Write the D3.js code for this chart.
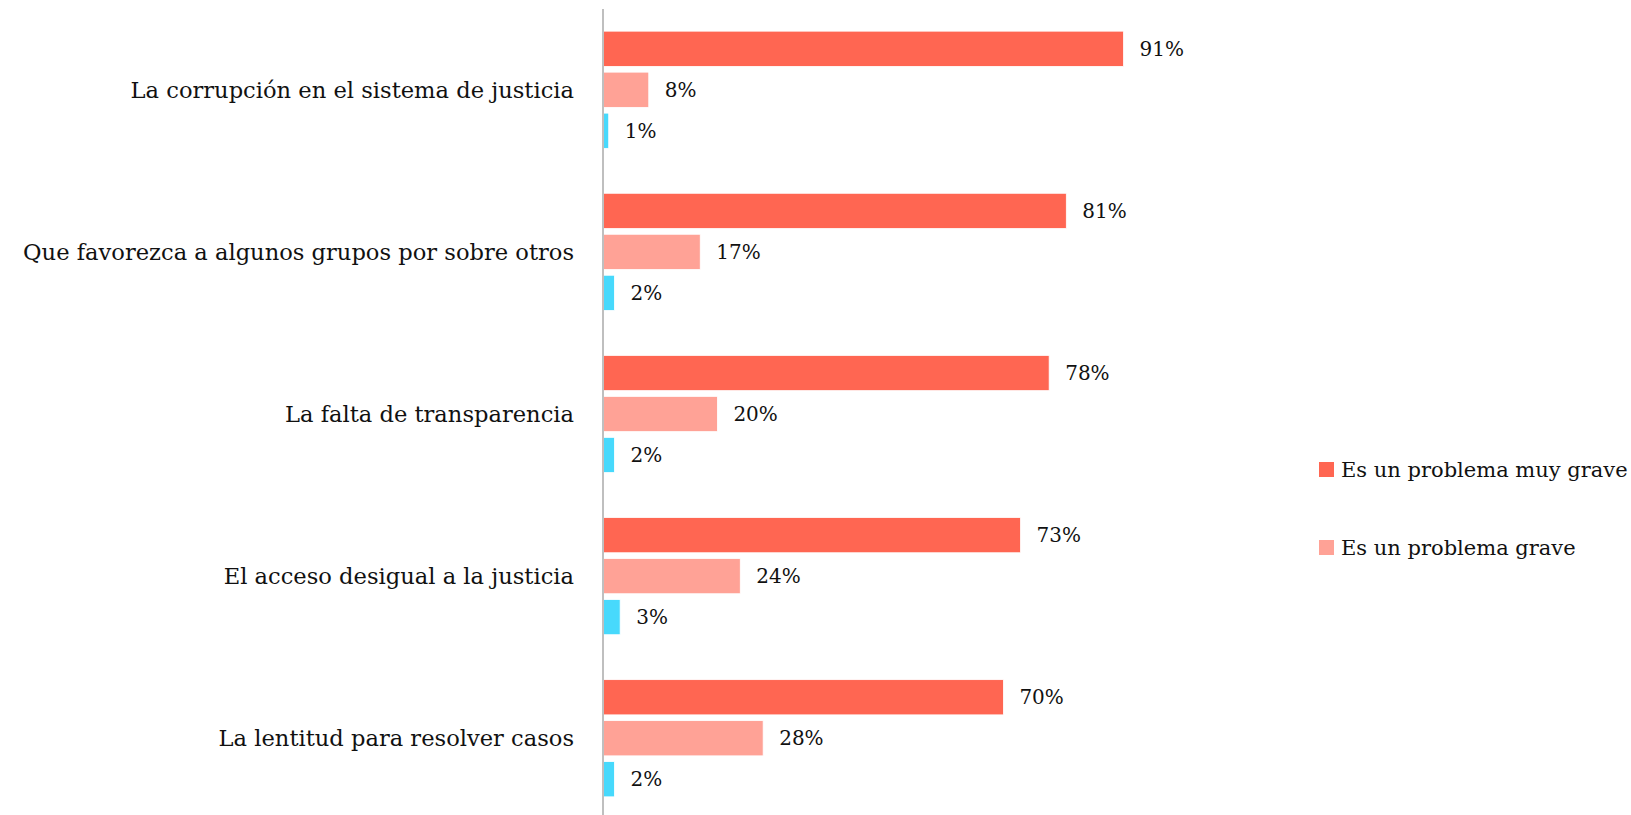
<!DOCTYPE html>
<html>
<head>
<meta charset="utf-8">
<script src="https://cdn.jsdelivr.net/npm/d3@7"></script>
<style>
  body { margin: 0; background: #fff; }
  text { font-family: "DejaVu Serif", serif; fill: #111; }
</style>
</head>
<body>
<div id="chart"></div>
<script>
// Datos del gráfico
var categories = [
  "La corrupción en el sistema de justicia",
  "Que favorezca a algunos grupos por sobre otros",
  "La falta de transparencia",
  "El acceso desigual a la justicia",
  "La lentitud para resolver casos"
];
var seriesNames = ["Es un problema muy grave", "Es un problema grave", "No es un problema"];
var muyGrave = [91, 81, 78, 73, 70];
var grave = [8, 17, 20, 24, 28];
var noProblema = [1, 2, 2, 3, 2];
var colors = ["#FF6652", "#FFA296", "#47D9FC"];

var svgWidth = 1631, svgHeight = 815;

var svg = d3.select("#chart")
  .append("svg")
  .attr("width", svgWidth)
  .attr("height", svgHeight);

var rows = categories.map(function(c, i) {
  return { cat: c, vals: [muyGrave[i], grave[i], noProblema[i]] };
});

// Escalas
var xScale = d3.scaleLinear().domain([0, 100]).range([603, 1175]);

var yScale = d3.scaleBand()
  .domain(categories)
  .range([8.7, 819.3])
  .paddingInner(0.277)
  .paddingOuter(0.1385);

var ySub = d3.scaleBand()
  .domain([0, 1, 2])
  .range([0, yScale.bandwidth()])
  .paddingInner(0.14)
  .paddingOuter(0);

var groups = svg.selectAll("g.group")
  .data(rows)
  .enter()
  .append("g")
  .attr("class", "group")
  .attr("transform", d => `translate(0, ${yScale(d.cat)})`);

groups.selectAll("rect")
  .data(d => d.vals)
  .enter()
  .append("rect")
  .attr("x", xScale(0))
  .attr("y", (d, i) => ySub(i))
  .attr("width", d => xScale(d) - xScale(0))
  .attr("height", ySub.bandwidth())
  .attr("fill", (d, i) => colors[i])
  .attr("stroke", "#fff")
  .attr("stroke-width", 0.8);

groups.selectAll("text.val")
  .data(d => d.vals)
  .enter()
  .append("text")
  .attr("class", "val")
  .attr("x", d => xScale(d) + 16)
  .attr("y", (d, i) => ySub(i) + ySub.bandwidth() / 2)
  .attr("dy", "0.36em")
  .style("font-size", "20px")
  .text(d => d + "%");

// Eje vertical (categorías)
svg.append("line")
  .attr("x1", xScale(0))
  .attr("x2", xScale(0))
  .attr("y1", 9)
  .attr("y2", svgHeight)
  .attr("stroke", "#BFBFBF")
  .attr("stroke-width", 2);

svg.selectAll("text.cat")
  .data(categories)
  .enter()
  .append("text")
  .attr("class", "cat")
  .attr("x", 574)
  .attr("y", d => yScale(d) + yScale.bandwidth() / 2)
  .attr("dy", "0.36em")
  .attr("text-anchor", "end")
  .style("font-size", "22.6px")
  .text(d => d);

// Leyenda
var legend = svg.selectAll("g.legend")
  .data(seriesNames.slice(0, 2))
  .enter()
  .append("g")
  .attr("class", "legend")
  .attr("transform", (d, i) => `translate(1319, ${462 + i * 78})`);

legend.append("rect")
  .attr("width", 15)
  .attr("height", 15)
  .attr("fill", (d, i) => colors[i]);

legend.append("text")
  .attr("x", 22)
  .attr("y", 7.5)
  .attr("dy", "0.36em")
  .style("font-size", "21px")
  .text(d => d);
</script>
</body>
</html>
